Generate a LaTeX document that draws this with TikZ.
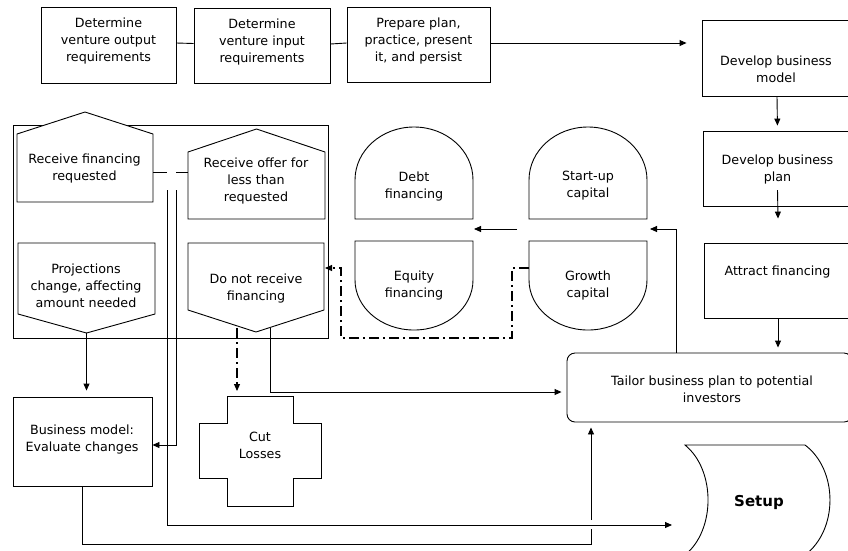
\documentclass[tikz,border=0pt]{standalone}
\usepackage{fontspec}
\setmainfont{DejaVu Sans}
\usetikzlibrary{arrows.meta,calc}
\begin{document}
\begin{tikzpicture}[x=1pt,y=-1pt,line width=0.9pt,
  every node/.style={font=\fontsize{12.7}{17}\selectfont,align=center,inner sep=0pt},
  rbox/.style={draw,fill=white,rectangle},
  arr/.style={-{Triangle[length=7pt,width=6pt]}},
  dashdot/.style={line width=1.1pt,dash pattern=on 10pt off 4pt on 2pt off 4pt}]
\useasboundingbox (0,0) rectangle (848,550);
\begin{scope}
\clip (0,0) rectangle (848,550);
% top row
\node[rbox,minimum width=135pt,minimum height=76pt] (b1) at (108.5,45) {};
\node (b1t) at (108.5,41) {Determine\\venture output\\requirements};
\node[rbox,minimum width=136pt,minimum height=75pt] (b2) at (262,45.5) {};
\node (b2t) at (262,41.5) {Determine\\venture input\\requirements};
\node[rbox,minimum width=143pt,minimum height=75pt] (b3) at (418.5,44.5) {};
\node (b3t) at (418.5,41) {Prepare plan,\\practice, present\\it, and persist};
% right column
\node[rbox,minimum width=150pt,minimum height=76pt] (dm) at (777,58) {};
\node (dmt) at (776,69) {Develop business\\model};
\node[rbox,minimum width=149pt,minimum height=75pt] (dp) at (777.5,168.5) {};
\node (dpt) at (777.5,169.5) {Develop business\\plan};
\node[rbox,minimum width=148pt,minimum height=75pt] (af) at (778,280.5) {};
\node (aft) at (777.5,272) {Attract financing};
\node[rbox,rounded corners=8pt,minimum width=285pt,minimum height=69pt] (tl) at (709.5,387.5) {};
\node (tlt) at (712,389) {Tailor business plan to potential\\investors};
% container
\node[draw,minimum width=315pt,minimum height=213pt] (grp) at (170.5,231.5) {};
% pentagons
\draw[fill=white] (17,202) -- (17,134) -- (85,112) -- (153,134) -- (153,202) -- cycle;
\node (rf) at (84.5,168) {Receive financing\\requested};
\draw[fill=white] (188,219) -- (188,152) -- (256.5,129) -- (325,152) -- (325,219) -- cycle;
\node (ro) at (256,181) {Receive offer for\\less than\\requested};
\draw[fill=white] (18,243) -- (155,243) -- (155,314) -- (86.5,333) -- (18,314) -- cycle;
\node (pc) at (86,286) {Projections\\change, affecting\\amount needed};
\draw[fill=white] (188,243) -- (324,243) -- (324,310) -- (256,332) -- (188,310) -- cycle;
\node (dn) at (256,288.5) {Do not receive\\financing};
% domes
\draw (355,219) -- (355,180) .. controls (355,150.7) and (381.4,127) .. (414,127) .. controls (446.6,127) and (473,150.7) .. (473,180) -- (473,219) -- cycle;
\node (debt) at (414,186) {Debt\\financing};
\draw (529,219) -- (529,180) .. controls (529,150.7) and (555.4,127) .. (588,127) .. controls (620.6,127) and (647,150.7) .. (647,180) -- (647,219) -- cycle;
\node (su) at (588,185.5) {Start-up\\capital};
\draw (355,241) -- (473,241) -- (473,280) .. controls (473,307.6) and (446.6,330) .. (414,330) .. controls (381.4,330) and (355,307.6) .. (355,280) -- cycle;
\node (eq) at (414,285.5) {Equity\\financing};
\draw (529,241) -- (647,241) -- (647,280) .. controls (647,307.6) and (620.6,330) .. (588,330) .. controls (555.4,330) and (529,307.6) .. (529,280) -- cycle;
\node (gc) at (588,285.5) {Growth\\capital};
% business model box
\node[rbox,minimum width=139pt,minimum height=89pt] (bm) at (82.5,441.5) {};
\node (bmt) at (82,439) {Business model:\\Evaluate changes};
% cut losses
\draw (227,396) -- (293,396) -- (293,423) -- (321,423) -- (321,478) -- (293,478) -- (293,506) -- (227,506) -- (227,478) -- (199,478) -- (199,423) -- (227,423) -- cycle;
\node (cl) at (260,445) {Cut\\Losses};
% setup
\draw[fill=white] (685,445) -- (805,445) .. controls (838.3,470) and (838.3,530) .. (805,555) -- (685,555) .. controls (715.7,530) and (715.7,470) .. (685,445) -- cycle;
\node[font=\fontsize{15}{18}\selectfont\bfseries] (st) at (759,502) {Setup};
% coordinates
\coordinate (sg) at (650,229);
\coordinate (dA) at (517,229);
\coordinate (dB) at (474,229);
\coordinate (gl) at (529,268);
\coordinate (dnR) at (325,268);
\coordinate (rfR) at (153,172);
\coordinate (roL) at (188,172);
\coordinate (pcA) at (86.5,333);
\coordinate (dnA) at (237,328);
\coordinate (dnB) at (270,328);
\coordinate (vA) at (167,190);
\coordinate (vB) at (176,190);
\coordinate (stIn) at (672,525);
% connectors
\draw ([yshift=2pt]b1.east) -- ([yshift=2pt]b2.west);
\draw ([yshift=1.5pt]b2.east) -- ([yshift=1.5pt]b3.west);
\draw[arr,shorten >=15pt] ([yshift=1.5pt]b3.east) -- ([yshift=1.5pt]b3.east -| dm.west);
\draw[arr,shorten >=5pt] (dm.south) -- (dp.north);
\draw[arr] ([yshift=-21.5pt]dp.center) -- ([yshift=24pt]af.north);
\draw[arr,shorten >=5pt] (af.south) -- (tl.north -| af.south);
\draw[arr] ([xshift=-33.5pt]tl.north) |- (sg);
\draw[arr] (dA) -- (dB);
\draw[arr,dashdot] (gl) -- (512,268) -- (512,338) -- (341,338) -- (341,268) -- (dnR);
\draw (rfR) -- (167,172);
\draw (176,172) -- (roL);
\draw[arr] (vA) |- (stIn);
\draw[arr] (vB) |- (bm.east |- 0,445);
\draw[arr,shorten >=6pt] (pcA) -- (pcA |- bm.north);
\draw[arr,dashdot] (dnA) -- (237,391);
\draw[arr,shorten >=5pt] (dnB) |- (tl.west |- 0,392);
\draw (bm.south) |- (591,544) -- (591,529);
\draw[arr,shorten >=5pt] (591,520) -- (tl.south -| 591,0);
\end{scope}
\end{tikzpicture}
\end{document}
